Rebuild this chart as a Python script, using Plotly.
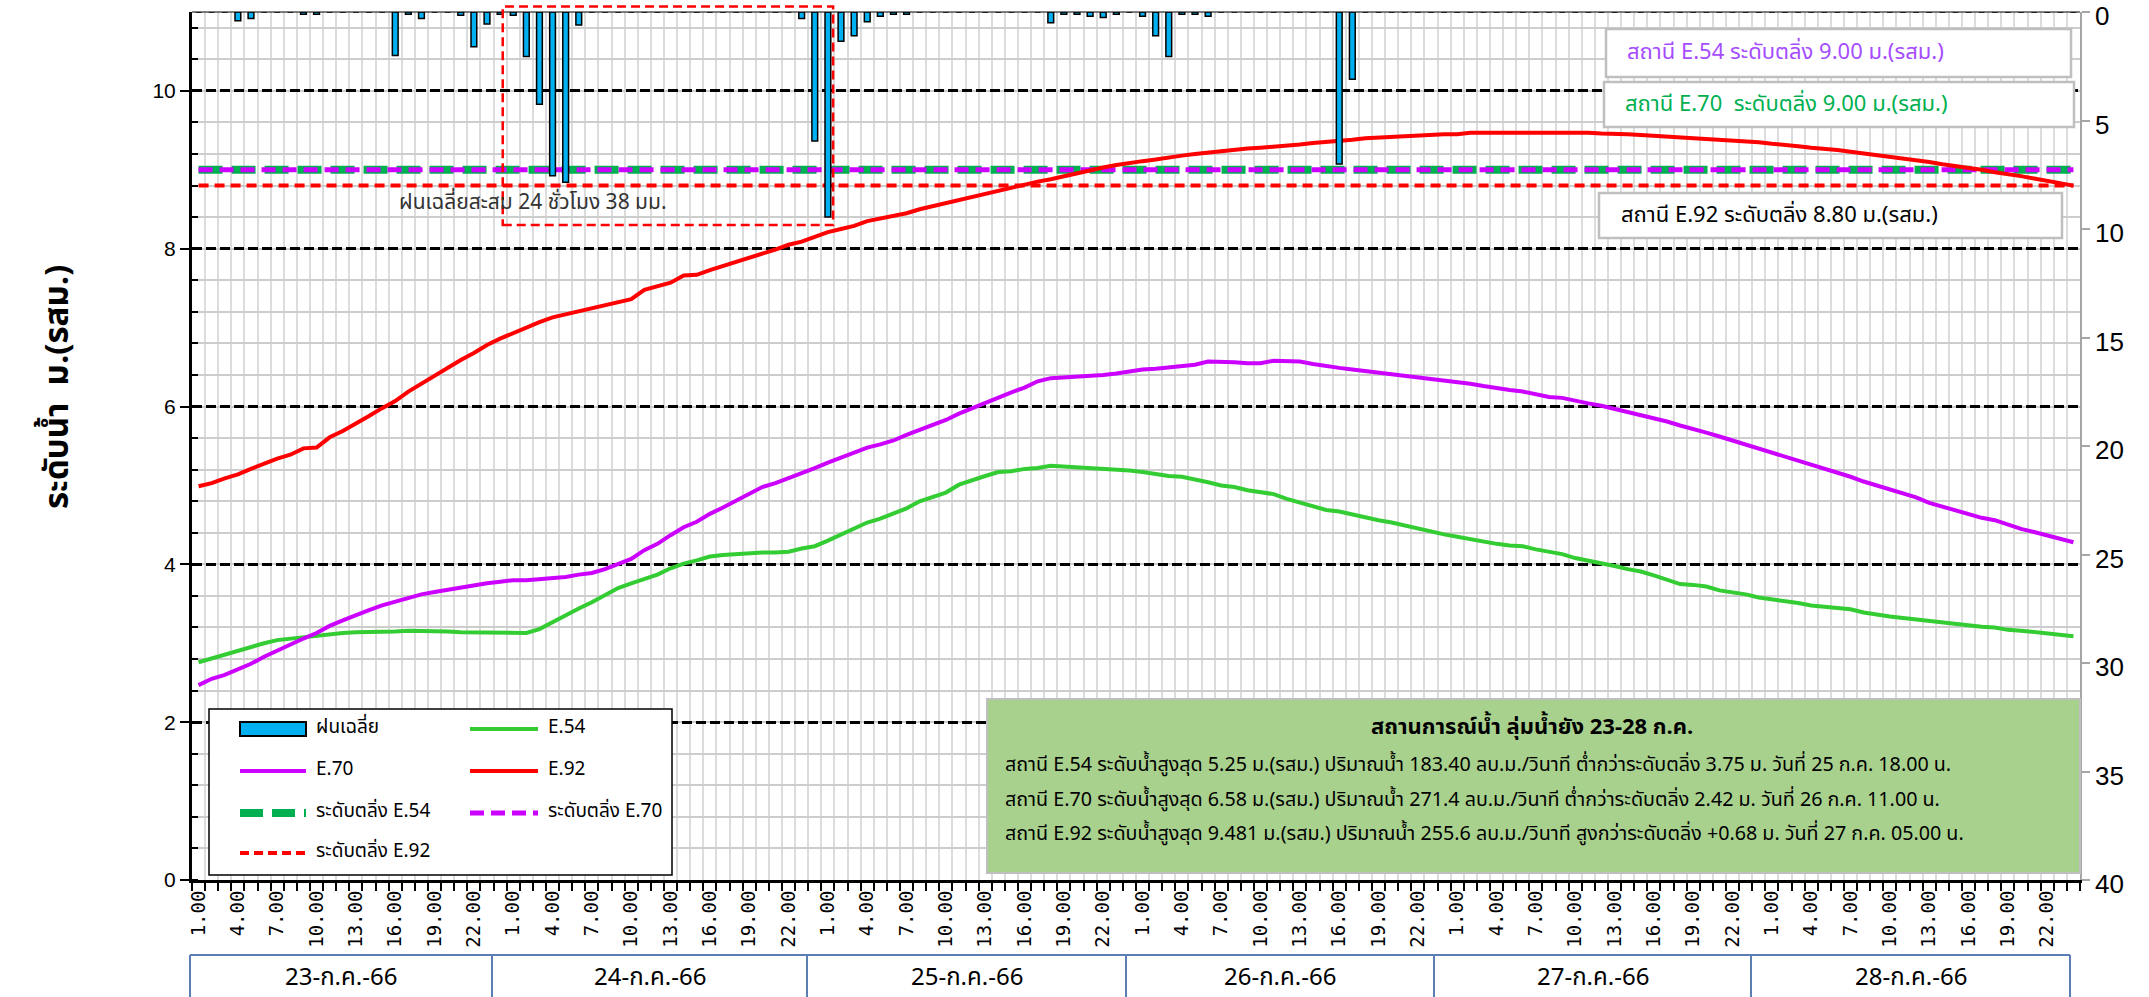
import numpy as np
import plotly.graph_objects as go

# ---------------- data ----------------
days = ["23-ก.ค.-66", "24-ก.ค.-66", "25-ก.ค.-66", "26-ก.ค.-66", "27-ก.ค.-66", "28-ก.ค.-66"]
hours = [f"{h}.00" for h in range(1, 25)]

rain_23 = [0, 0, 0, 0.4, 0.3, 0, 0, 0, 0.1, 0.1, 0, 0, 0, 0, 0, 2.0, 0.1, 0.3, 0, 0, 0.15, 1.6, 0.55, 0.1]
rain_24 = [0.15, 2.05, 4.25, 7.55, 7.85, 0.6, 0, 0, 0, 0, 0, 0, 0, 0, 0, 0, 0, 0, 0, 0, 0, 0, 0.3, 5.95]
rain_25 = [9.45, 1.35, 1.1, 0.45, 0.2, 0.1, 0.1, 0, 0, 0, 0, 0, 0, 0, 0, 0, 0, 0.5, 0.1, 0.1, 0.2, 0.25, 0.1, 0]
rain_26 = [0.2, 1.1, 2.05, 0.1, 0.1, 0.2, 0, 0, 0, 0, 0, 0, 0, 0, 0, 7.0, 3.1, 0, 0, 0, 0, 0, 0, 0]
rain_27 = [0] * 24
rain_28 = [0] * 24

e54 = [2.76, 2.81, 2.86, 2.91, 2.95, 3.00, 3.04, 3.06, 3.08, 3.10, 3.12, 3.13, 3.14, 3.14, 3.15, 3.15,
       3.16, 3.16, 3.16, 3.15, 3.14, 3.14, 3.13, 3.13, 3.13, 3.13, 3.18, 3.27, 3.35, 3.44, 3.52, 3.61,
       3.70, 3.76, 3.81, 3.87, 3.95, 4.01, 4.05, 4.10, 4.12, 4.13, 4.15, 4.15, 4.15, 4.16, 4.20, 4.23,
       4.30, 4.38, 4.46, 4.53, 4.58, 4.64, 4.71, 4.80, 4.85, 4.91, 5.01, 5.07, 5.12, 5.17, 5.18, 5.21,
       5.22, 5.25, 5.24, 5.23, 5.23, 5.21, 5.20, 5.19, 5.17, 5.14, 5.12, 5.11, 5.08, 5.04, 5.00, 4.98,
       4.94, 4.91, 4.89, 4.83, 4.78, 4.73, 4.69, 4.67, 4.63, 4.60, 4.56, 4.53, 4.49, 4.45, 4.42, 4.38,
       4.35, 4.32, 4.28, 4.26, 4.24, 4.23, 4.19, 4.16, 4.13, 4.08, 4.05, 4.02, 3.98, 3.94, 3.91, 3.86,
       3.81, 3.75, 3.74, 3.72, 3.67, 3.65, 3.62, 3.58, 3.56, 3.54, 3.51, 3.48, 3.46, 3.44, 3.43, 3.39,
       3.36, 3.34, 3.32, 3.30, 3.28, 3.27, 3.25, 3.22, 3.21, 3.20, 3.17, 3.16, 3.14, 3.12, 3.10, 3.09]

e70 = [2.47, 2.55, 2.60, 2.67, 2.74, 2.83, 2.91, 2.99, 3.06, 3.13, 3.22, 3.29, 3.36, 3.42, 3.48, 3.53,
       3.58, 3.62, 3.65, 3.68, 3.71, 3.74, 3.76, 3.78, 3.80, 3.80, 3.81, 3.83, 3.84, 3.87, 3.89, 3.94,
       4.00, 4.07, 4.18, 4.26, 4.37, 4.47, 4.54, 4.64, 4.72, 4.81, 4.90, 4.98, 5.03, 5.09, 5.15, 5.22,
       5.29, 5.35, 5.42, 5.48, 5.52, 5.57, 5.64, 5.70, 5.76, 5.83, 5.91, 5.98, 6.05, 6.11, 6.18, 6.24,
       6.32, 6.36, 6.37, 6.38, 6.38, 6.40, 6.42, 6.45, 6.47, 6.48, 6.50, 6.52, 6.53, 6.57, 6.57, 6.56,
       6.55, 6.55, 6.58, 6.58, 6.57, 6.54, 6.51, 6.49, 6.47, 6.45, 6.43, 6.42, 6.40, 6.38, 6.35, 6.33,
       6.32, 6.29, 6.26, 6.23, 6.21, 6.19, 6.16, 6.12, 6.11, 6.07, 6.04, 6.01, 5.97, 5.93, 5.90, 5.86,
       5.81, 5.76, 5.72, 5.67, 5.62, 5.57, 5.52, 5.46, 5.42, 5.36, 5.31, 5.26, 5.21, 5.17, 5.11, 5.05,
       5.00, 4.94, 4.89, 4.85, 4.78, 4.73, 4.68, 4.63, 4.59, 4.56, 4.50, 4.45, 4.41, 4.37, 4.32, 4.28]

e92 = [4.99, 5.03, 5.09, 5.14, 5.21, 5.28, 5.34, 5.39, 5.47, 5.48, 5.61, 5.69, 5.78, 5.88, 5.98, 6.07,
       6.19, 6.29, 6.40, 6.50, 6.59, 6.68, 6.78, 6.86, 6.93, 7.01, 7.07, 7.13, 7.17, 7.21, 7.25, 7.29,
       7.33, 7.36, 7.48, 7.52, 7.57, 7.66, 7.67, 7.73, 7.78, 7.83, 7.88, 7.93, 7.99, 8.05, 8.09, 8.15,
       8.21, 8.25, 8.29, 8.35, 8.38, 8.41, 8.45, 8.50, 8.54, 8.58, 8.61, 8.65, 8.69, 8.73, 8.77, 8.81,
       8.85, 8.88, 8.92, 8.96, 9.00, 9.03, 9.06, 9.09, 9.11, 9.13, 9.16, 9.18, 9.20, 9.22, 9.24, 9.25,
       9.27, 9.28, 9.29, 9.31, 9.32, 9.34, 9.35, 9.36, 9.38, 9.40, 9.41, 9.42, 9.43, 9.44, 9.45, 9.45,
       9.45, 9.47, 9.47, 9.47, 9.48, 9.48, 9.48, 9.48, 9.48, 9.48, 9.47, 9.46, 9.46, 9.45, 9.44, 9.43,
       9.42, 9.42, 9.41, 9.40, 9.38, 9.37, 9.36, 9.35, 9.33, 9.32, 9.30, 9.28, 9.27, 9.25, 9.23, 9.21,
       9.19, 9.17, 9.15, 9.12, 9.10, 9.07, 9.05, 9.03, 9.00, 8.97, 8.95, 8.92, 8.89, 8.86, 8.83, 8.80]

bank_e54 = 9.00
bank_e70 = 9.00
bank_e92 = 8.80

rain = rain_23 + rain_24 + rain_25 + rain_26 + rain_27 + rain_28
n = len(days) * len(hours)
x = np.arange(n)
hour_labels = hours * len(days)
tick_idx = [i for i in range(n) if i % 3 == 0]
tick_txt = [hour_labels[i] for i in tick_idx]

# ---------------- geometry helpers (layout only) ----------------
W, H = 2149, 997
L, R, T, B = 192, 2080, 12, 880


def px(xp):
    return (xp - L) / (R - L)


def py(yp):
    return (B - yp) / (B - T)


THAI = "Noto Sans Thai, Leelawadee UI, Tahoma, Noto Sans, DejaVu Sans, sans-serif"

fig = go.Figure()

C54, C70, C92 = "#33CC33", "#CC00FF", "#FF0000"

fig.add_trace(go.Scatter(x=x, y=[bank_e54] * n, mode="lines", name="ระดับตลิ่ง E.54",
                         line=dict(color="#00B050", width=8, dash="24px,9px"), showlegend=False))
fig.add_trace(go.Scatter(x=x, y=[bank_e70] * n, mode="lines", name="ระดับตลิ่ง E.70",
                         line=dict(color="#CC00FF", width=5, dash="14px,7px"), showlegend=False))
fig.add_trace(go.Scatter(x=x, y=[bank_e92] * n, mode="lines", name="ระดับตลิ่ง E.92",
                         line=dict(color="#FF0000", width=4, dash="10px,6px"), showlegend=False))
fig.add_trace(go.Scatter(x=x, y=e54, mode="lines", name="E.54",
                         line=dict(color=C54, width=4), showlegend=False))
fig.add_trace(go.Scatter(x=x, y=e70, mode="lines", name="E.70",
                         line=dict(color=C70, width=4), showlegend=False))
fig.add_trace(go.Scatter(x=x, y=e92, mode="lines", name="E.92",
                         line=dict(color=C92, width=4), showlegend=False))
fig.add_trace(go.Bar(x=x, y=rain, name="ฝนเฉลี่ย", yaxis="y2",
                     marker=dict(color="#00B0F0", line=dict(color="black", width=1.5)),
                     showlegend=False))

fig.update_layout(
    width=W, height=H,
    margin=dict(l=L, r=W - R, t=T, b=H - B, autoexpand=False),
    paper_bgcolor="white", plot_bgcolor="white",
    bargap=0.56,
    font=dict(family=THAI, color="black"),
    xaxis=dict(
        range=[-0.5, n - 0.5], tickmode="array", tickvals=tick_idx, ticktext=tick_txt,
        tickangle=-90, ticks="", showgrid=False, zeroline=False, automargin=False,
        tickfont=dict(family="DejaVu Sans Mono", size=19, color="black"),
        showline=True, linecolor="black", linewidth=3,
        minor=dict(tick0=-0.5, dtick=1, ticks="outside", ticklen=8, tickcolor="black",
                   tickwidth=1.5, showgrid=True, gridcolor="#DCDCDC", gridwidth=1.5, griddash="solid"),
    ),
    yaxis=dict(
        range=[0, 11], tickmode="array", tickvals=[0, 2, 4, 6, 8, 10], automargin=False,
        ticks="outside", ticklen=9, tickwidth=2, tickcolor="black",
        showline=True, linecolor="black", linewidth=3, zeroline=False,
        showgrid=True, gridcolor="black", gridwidth=2.5, griddash="10px,4px",
        tickfont=dict(family="Liberation Sans Narrow, Liberation Sans", size=21, color="black"),
        minor=dict(tick0=0, dtick=0.4, ticks="inside", ticklen=6, tickwidth=2, tickcolor="black",
                   showgrid=True, gridcolor="#CDCDCD", gridwidth=1.5, griddash="solid"),
    ),
    yaxis2=dict(
        overlaying="y", side="right", range=[40, -0.0001], tickmode="array", automargin=False,
        tickvals=[0, 5, 10, 15, 20, 25, 30, 35, 40], showgrid=False, zeroline=False,
        ticks="outside", ticklen=8, tickcolor="#A6A6A6", tickwidth=1.5,
        showline=True, linecolor="#A6A6A6", linewidth=1.5, ticklabeloverflow="allow",
        ticklabelshift=-4,
        tickfont=dict(family="Liberation Sans Narrow, Liberation Sans", size=26, color="black"),
    ),
)

shapes = []
annos = []

# top border of plot
shapes.append(dict(type="line", xref="paper", yref="paper", x0=0, x1=1, y0=1, y1=1,
                   line=dict(color="black", width=1)))

# 24h rain box
shapes.append(dict(type="rect", xref="x", yref="paper", x0=23.2, x1=48.4, y0=py(225), y1=py(6.5),
                   line=dict(color="#FF0000", width=2.5, dash="9px,5px")))
annos.append(dict(text="ฝนเฉลี่ยสะสม 24 ชั่วโมง 38 มม.", xref="paper", yref="paper",
                  x=px(533), y=py(202), xanchor="center", yanchor="middle", showarrow=False,
                  font=dict(size=21, color="#333333")))

# bank level boxes (top right)
bank_boxes = [
    (1606, 2071, 29, 77, "สถานี E.54 ระดับตลิ่ง 9.00 ม.(รสม.)", "#A64DFF", 1625),
    (1604, 2074, 82, 127, "สถานี E.70  ระดับตลิ่ง 9.00 ม.(รสม.)", "#00B050", 1623),
    (1599, 2062, 193, 238, "สถานี E.92 ระดับตลิ่ง 8.80 ม.(รสม.)", "black", 1619),
]
for x0, x1, y0, y1, txt, col, tx in bank_boxes:
    shapes.append(dict(type="rect", xref="paper", yref="paper", x0=px(x0), x1=px(x1), y0=py(y1), y1=py(y0),
                       fillcolor="white", line=dict(color="#BFBFBF", width=2.5)))
    annos.append(dict(text=txt, xref="paper", yref="paper", x=px(tx), y=py((y0 + y1) / 2),
                      xanchor="left", yanchor="middle", showarrow=False, font=dict(size=22, color=col)))

# info box (bottom right)
shapes.append(dict(type="rect", xref="paper", yref="paper", x0=px(987), x1=px(2080), y0=py(873), y1=py(699),
                   fillcolor="#A9D18E", line=dict(color="#BFBFBF", width=2)))
annos.append(dict(text="<b>สถานการณ์น้ำ ลุ่มน้ำยัง 23-28 ก.ค.</b>", xref="paper", yref="paper",
                  x=px(1532), y=py(727), xanchor="center", yanchor="middle", showarrow=False,
                  font=dict(size=22, color="black")))
info_lines = [
    "สถานี E.54 ระดับน้ำสูงสุด 5.25 ม.(รสม.) ปริมาณน้ำ 183.40 ลบ.ม./วินาที ต่ำกว่าระดับตลิ่ง 3.75 ม. วันที่ 25 ก.ค. 18.00 น.",
    "สถานี E.70 ระดับน้ำสูงสุด 6.58 ม.(รสม.) ปริมาณน้ำ 271.4 ลบ.ม./วินาที ต่ำกว่าระดับตลิ่ง 2.42 ม. วันที่ 26 ก.ค. 11.00 น.",
    "สถานี E.92 ระดับน้ำสูงสุด 9.481 ม.(รสม.) ปริมาณน้ำ 255.6 ลบ.ม./วินาที สูงกว่าระดับตลิ่ง +0.68 ม. วันที่ 27 ก.ค. 05.00 น.",
]
for k, line in enumerate(info_lines):
    annos.append(dict(text=line, xref="paper", yref="paper", x=px(1003), y=py(765 + 34.5 * k),
                      xanchor="left", yanchor="middle", showarrow=False, font=dict(size=19.7, color="black")))

# manual legend
shapes.append(dict(type="rect", xref="paper", yref="paper", x0=px(209), x1=px(672), y0=py(875), y1=py(709),
                   fillcolor="white", line=dict(color="black", width=1.5)))
rows = [729, 771, 813, 853]
c1, c2 = (240, 306, 314), (470, 538, 546)
leg_items = [
    (c1, rows[0], "bar", None, "ฝนเฉลี่ย"),
    (c2, rows[0], "line", dict(color=C54, width=4), "E.54"),
    (c1, rows[1], "line", dict(color=C70, width=4), "E.70"),
    (c2, rows[1], "line", dict(color=C92, width=4), "E.92"),
    (c1, rows[2], "line", dict(color="#00B050", width=8, dash="23px,9px"), "ระดับตลิ่ง E.54"),
    (c2, rows[2], "line", dict(color="#CC00FF", width=5, dash="14px,7px"), "ระดับตลิ่ง E.70"),
    (c1, rows[3], "line", dict(color="#FF0000", width=4, dash="9px,5px"), "ระดับตลิ่ง E.92"),
]
for (sx0, sx1, tx), ry, kind, ln, label in leg_items:
    if kind == "bar":
        shapes.append(dict(type="rect", xref="paper", yref="paper", x0=px(sx0), x1=px(sx1),
                           y0=py(ry + 7), y1=py(ry - 7), fillcolor="#00B0F0",
                           line=dict(color="black", width=2)))
    else:
        shapes.append(dict(type="line", xref="paper", yref="paper", x0=px(sx0), x1=px(sx1),
                           y0=py(ry), y1=py(ry), line=ln))
    annos.append(dict(text=label, xref="paper", yref="paper", x=px(tx), y=py(ry - 2),
                      xanchor="left", yanchor="middle", showarrow=False, font=dict(size=19, color="black")))

# y-axis title
annos.append(dict(text="<b>ระดับน้ำ  ม.(รสม.)</b>", xref="paper", yref="paper", x=px(58), y=py(387),
                  xanchor="center", yanchor="middle", textangle=-90, showarrow=False,
                  font=dict(size=33, color="black")))

# day boxes under the axis
day_edges = [190, 492, 807, 1126, 1434, 1751, 2070]
shapes.append(dict(type="line", xref="paper", yref="paper", x0=px(day_edges[0]), x1=px(day_edges[-1]),
                   y0=py(955), y1=py(955), line=dict(color="#5B7FB5", width=2)))
for e in day_edges:
    shapes.append(dict(type="line", xref="paper", yref="paper", x0=px(e), x1=px(e),
                       y0=py(955), y1=py(1000), line=dict(color="#5B7FB5", width=2)))
for k, d in enumerate(days):
    annos.append(dict(text=d, xref="paper", yref="paper", x=px((day_edges[k] + day_edges[k + 1]) / 2),
                      y=py(978), xanchor="center", yanchor="middle", showarrow=False,
                      font=dict(size=24, color="black")))

fig.update_layout(shapes=shapes, annotations=annos)
fig.write_html("out.html", config={"displayModeBar": False},
               post_script="document.body.style.margin='0';document.body.style.overflow='hidden';")
